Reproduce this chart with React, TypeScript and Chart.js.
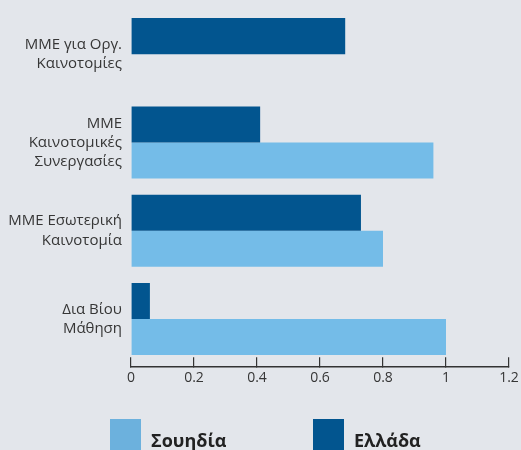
import React, { useEffect, useRef } from "react";
import { Chart, registerables } from "chart.js";

Chart.register(...registerables);

const categories: string[][] = [
  ["ΜΜΕ για Οργ.", "Καινοτομίες"],
  ["ΜΜΕ", "Καινοτομικές", "Συνεργασίες"],
  ["ΜΜΕ Εσωτερική", "Καινοτομία"],
  ["Δια Βίου", "Μάθηση"],
];
const greeceLabel = "Ελλάδα";
const swedenLabel = "Σουηδία";
const greeceValues: (number | null)[] = [0.68, 0.41, 0.73, 0.06];
const swedenValues: (number | null)[] = [null, 0.96, 0.8, 1.0];
const xMin = 0;
const xMax = 1.2;
const xStep = 0.2;

const BG = "#e3e6eb";
const DARK = "#02558f";
const LIGHT = "#74bce8";
const LIGHT_LEGEND = "#6cb1dd";
const TEXT = "#363636";
const FONT = "'Open Sans', sans-serif";

const bgPlugin = {
  id: "bgFill",
  beforeDraw(chart: any) {
    const { ctx, width, height } = chart;
    ctx.save();
    ctx.fillStyle = BG;
    ctx.fillRect(0, 0, width, height);
    ctx.restore();
  },
};

const legendPlugin = {
  id: "customLegend",
  afterDraw(chart: any) {
    const { ctx } = chart;
    const ds = chart.data.datasets.slice().reverse();
    const xScale = chart.scales.x;
    let x = chart.chartArea.left - 21;
    const top = xScale.bottom + 21;
    const boxW = 31;
    const boxH = 46;
    ctx.save();
    ctx.font = `bold 18px ${FONT}`;
    ctx.textBaseline = "middle";
    ctx.textAlign = "left";
    ds.forEach((d: any) => {
      ctx.fillStyle = d.legendColor || d.backgroundColor;
      ctx.fillRect(x, top, boxW, boxH);
      ctx.fillStyle = "#222";
      ctx.fillText(d.label, x + boxW + 10, top + boxH / 2);
      x += 203;
    });
    ctx.restore();
  },
};

export default function App() {
  const ref = useRef<HTMLCanvasElement | null>(null);
  useEffect(() => {
    document.body.style.margin = "0";
    document.body.style.overflow = "hidden";
    document.body.style.background = BG;
    if (!ref.current) return;
    const chart = new Chart(ref.current, {
      type: "bar",
      data: {
        labels: categories as any,
        datasets: [
          {
            label: greeceLabel,
            data: greeceValues,
            backgroundColor: DARK,
            borderWidth: 0,
            xAxisID: "x",
            yAxisID: "y",
          } as any,
          {
            label: swedenLabel,
            data: swedenValues,
            backgroundColor: LIGHT,
            legendColor: LIGHT_LEGEND,
            borderWidth: 0,
            xAxisID: "x",
            yAxisID: "y",
          } as any,
        ],
      },
      options: {
        indexAxis: "y",
        animation: false,
        responsive: false,
        maintainAspectRatio: false,
        layout: { padding: { left: 0, right: 12, top: 10, bottom: 52 } },
        datasets: {
          bar: { categoryPercentage: 0.816, barPercentage: 1 },
        },
        plugins: {
          legend: { display: false },
          tooltip: { enabled: false },
          title: { display: false },
        },
        scales: {
          x: {
            type: "linear",
            position: "bottom",
            weight: 1,
            min: xMin,
            max: xMax,
            ticks: {
              stepSize: xStep,
              font: { family: FONT, size: 14 },
              color: TEXT,
              padding: 12,
              maxRotation: 0,
              callback: (v: any) => String(Number(Number(v).toFixed(2))),
            },
            grid: {
              display: true,
              drawOnChartArea: false,
              drawTicks: true,
              tickLength: -10,
              color: "#333",
              lineWidth: 1.2,
            },
            border: { display: true, color: "#333", width: 1.5 },
            afterFit: (s: any) => {
              s.paddingLeft = 0;
              s.paddingRight = 0;
            },
          },
          xpad: {
            type: "linear",
            position: "bottom",
            weight: 0,
            display: true,
            grid: { display: false },
            border: { display: false },
            ticks: { display: false },
            afterFit: (s: any) => {
              s.height = 4;
              s.paddingLeft = 0;
              s.paddingRight = 0;
            },
          },
          y: {
            type: "category",
            position: "left",
            offset: true,
            grid: { display: false, drawTicks: false },
            border: { display: false },
            ticks: {
              font: { family: FONT, size: 15, lineHeight: 1.27 },
              color: TEXT,
              padding: 9,
            },
            afterFit: (s: any) => {
              s.width = 131;
              s.paddingTop = 0;
              s.paddingBottom = 0;
            },
          },
        } as any,
      },
      plugins: [bgPlugin, legendPlugin],
    });
    return () => chart.destroy();
  }, []);
  return (
    <div style={{ width: 521, height: 450, background: BG }}>
      <canvas ref={ref} width={521} height={450} style={{ display: "block" }} />
    </div>
  );
}
